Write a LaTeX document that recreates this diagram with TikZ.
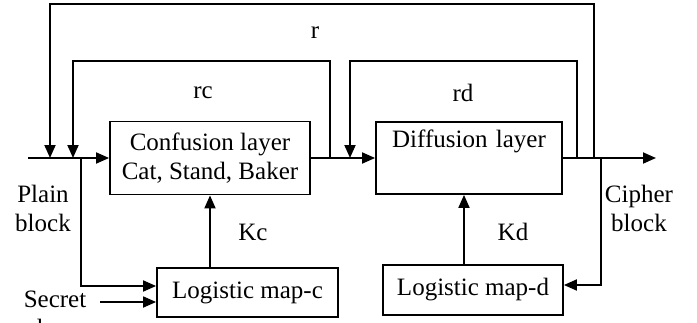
\documentclass[tikz,border=0pt]{standalone}
\usepackage{fontspec}
\setmainfont{Liberation Serif}
\usetikzlibrary{arrows.meta}

\begin{document}
\begin{tikzpicture}[x=1pt, y=-1pt, line width=1.8pt,
		font=\fontsize{25}{29}\selectfont,
		blk/.style={draw, inner sep=0pt},
		arr/.style={-{Triangle[length=13pt,width=11pt]}},
		lbl/.style={inner sep=0pt, align=center}]
				\useasboundingbox (0,0) rectangle (697,322);
				\node[blk, minimum width=200, minimum height=73, align=center] (conf) at (210,158) {Confusion layer\\Cat, Stand, Baker};
				\node[blk, minimum width=186, text width=186, align=center, text height=25pt, text depth=47pt] (diff) at (469,158) {Diffusion layer};
				\node[blk, minimum width=181, minimum height=49] (logc) at (247.5,292.5) {Logistic map-c};
				\node[blk, minimum width=180, minimum height=50] (logd) at (473,290) {Logistic map-d};
				\coordinate (in) at (28,158);
				\coordinate (out) at (656,158);
				\coordinate (rL) at (50,158);
				\coordinate (rR) at (594,158);
				\coordinate (rcL) at (73,158);
				\coordinate (rcR) at (330,158);
				\coordinate (rdL) at (350,158);
				\coordinate (rdR) at (577,158);
				\coordinate (pb) at (81,158);
				\coordinate (cb) at (601,158);
				\coordinate (sk) at (100,302);
				\draw[arr] (in) -- (conf.west);
				\draw[arr] (conf.east) -- (diff.west);
				\draw[arr] (diff.east) -- (out);
				\draw[arr] (rR) -- (594,4) -| (rL);
				\draw[arr] (rcR) -- (330,61) -| (rcL);
				\draw[arr] (rdR) -- (577,61) -| (rdL);
				\draw[arr] (pb) |- ([yshift=6.5pt]logc.west);
				\draw[arr] (sk) -- (sk -| logc.west);
				\draw[arr] (cb) |- ([yshift=5pt]logd.east);
				\draw[arr] (conf.south |- logc.north) -- (conf.south);
				\draw[arr] ([xshift=-5pt]diff.south |- logd.north) -- ([xshift=-5pt]diff.south);
				\node[lbl] (r) at (315,33) {r};
				\node[lbl] (rc) at (203,93) {rc};
				\node[lbl] (rd) at (463,93) {rd};
				\node[lbl] (kc) at (253,232) {Kc};
				\node[lbl] (kd) at (513,232) {Kd};
				\node[lbl] (plain) at (43,208) {Plain\\block};
				\node[lbl] (cipher) at (639,208) {Cipher\\block};
				\node[lbl, anchor=north] (secret) at (55,290) {Secret\\key};
\end{tikzpicture}
\end{document}
